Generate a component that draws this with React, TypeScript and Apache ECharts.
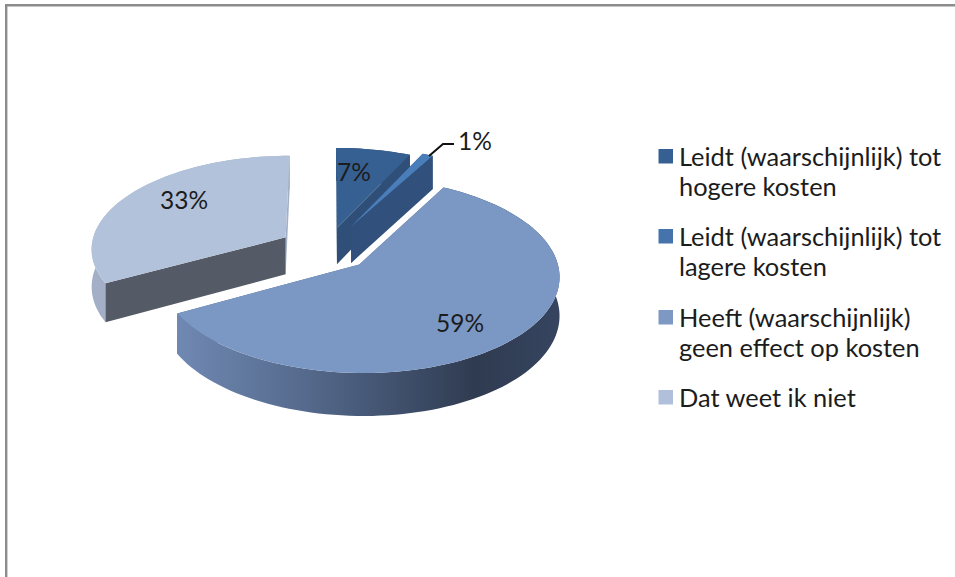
import React, { useEffect, useRef } from "react";
import * as echarts from "echarts";

const categories = [
  "Leidt (waarschijnlijk) tot\nhogere kosten",
  "Leidt (waarschijnlijk) tot\nlagere kosten",
  "Heeft (waarschijnlijk)\ngeen effect op kosten",
  "Dat weet ik niet",
];
const values = [7, 1, 59, 33];
const topColors = ["#376092", "#4a7ebb", "#7b98c4", "#b3c2db"];
const cutColors = ["#2f4f78", "#31517c", "#4d6285", "#545a66"];
const legendColors = ["#376092", "#4573ab", "#7c98c3", "#b0c0da"];
const labelOffsets = [
  [354, 171],
  [475, 140],
  [460, 322],
  [184, 199],
];
const legendTops = [141, 221, 302, 382];
const explodeBySlice = [0.24, 0.28, 0.23, 0.25];

const FONT = "Lato";
const CX = 327;
const CY = 249;
const RX = 195;
const RY = 93;
const K = 0.11;
const DEPTH = 37.5;

const total = values.reduce((a, b) => a + b, 0);
const rad = (d: number) => (d * Math.PI) / 180;

function project(X: number, Y: number, down: boolean): number[] {
  const d = 1 + K * Y;
  return [CX + (RX * X) / d, CY - (RY * Y) / d + (down ? DEPTH / d : 0)];
}

function renderSlice(params: any, api: any) {
  const i = params.dataIndex;
  const before = values.slice(0, i).reduce((a, b) => a + b, 0);
  const v = api.value(0);
  const a0 = (before / total) * 360;
  const a1 = ((before + v) / total) * 360;
  const mid = rad((a0 + a1) / 2);
  const ox = explodeBySlice[i] * Math.sin(mid);
  const oy = explodeBySlice[i] * Math.cos(mid);

  const rim = (deg: number, down: boolean) =>
    project(ox + Math.sin(rad(deg)), oy + Math.cos(rad(deg)), down);
  const apex = (down: boolean) => project(ox, oy, down);

  const steps = Math.max(4, Math.ceil((a1 - a0) / 2));
  const arcAngles: number[] = [];
  for (let s = 0; s <= steps; s++) arcAngles.push(a0 + ((a1 - a0) * s) / steps);

  const topPts = [apex(false), ...arcAngles.map((d) => rim(d, false))];
  const outerPts = [
    ...arcAngles.map((d) => rim(d, false)),
    ...arcAngles.slice().reverse().map((d) => rim(d, true)),
  ];
  const cut = (deg: number) => [apex(false), rim(deg, false), rim(deg, true), apex(true)];

  let outerFill: any = cutColors[i];
  if (i === 2) {
    outerFill = new echarts.graphic.LinearGradient(0, 0, 1, 0, [
      { offset: 0, color: "#7089b3" },
      { offset: 0.32, color: "#566b8e" },
      { offset: 0.58, color: "#40506c" },
      { offset: 0.78, color: "#2f3b50" },
      { offset: 1, color: "#364460" },
    ]);
  } else if (i === 3) {
    outerFill = "#a3afc6";
  }

  const poly = (points: number[][], fill: any) => ({
    type: "polygon",
    shape: { points },
    style: { fill, stroke: "none" },
  });

  const facesFront = (deg: number) => Math.cos(rad(deg)) < 0;
  const startFront = facesFront(a0 - 90);
  const endFront = facesFront(a1 + 90);
  const children: any[] = [];
  if (!startFront) children.push(poly(cut(a0), cutColors[i]));
  if (!endFront) children.push(poly(cut(a1), i === 3 ? "#a3afc6" : cutColors[i]));
  children.push(poly(outerPts, outerFill));
  if (startFront) children.push(poly(cut(a0), cutColors[i]));
  if (endFront) children.push(poly(cut(a1), cutColors[i]));
  children.push(poly(topPts, topColors[i]));
  return { type: "group", children };
}

function makeOption(): any {
  const graphics: any[] = [
    { type: "rect", shape: { x: 0, y: 0, width: 955, height: 577 }, style: { fill: "#ffffff" }, z: -1 },
    { type: "rect", shape: { x: 5, y: 4, width: 950, height: 2.4 }, style: { fill: "#8c8c8c" } },
    { type: "rect", shape: { x: 5, y: 4, width: 2.4, height: 573 }, style: { fill: "#8c8c8c" } },
    {
      type: "polyline",
      shape: { points: [[429, 156], [443, 144], [454, 144]] },
      style: { stroke: "#111111", lineWidth: 2, fill: "none" },
      z: 20,
    },
  ];
  values.forEach((v, i) => {
    graphics.push({
      type: "text",
      x: labelOffsets[i][0],
      y: labelOffsets[i][1],
      z: 20,
      style: {
        text: `${v}%`,
        font: `24.5px ${FONT}`,
        fill: "#1c1c1c",
        align: "center",
        verticalAlign: "middle",
      },
    });
    graphics.push({
      type: "rect",
      shape: { x: 658.5, y: legendTops[i] + 8, width: 14.5, height: 14.5 },
      style: { fill: legendColors[i] },
      z: 20,
    });
    graphics.push({
      type: "text",
      x: 679,
      y: legendTops[i],
      z: 20,
      style: {
        text: categories[i],
        font: `25.4px ${FONT}`,
        lineHeight: 30,
        fill: "#1c1c1c",
        align: "left",
        verticalAlign: "top",
      },
    });
  });
  return {
    animation: false,
    backgroundColor: "#ffffff",
    graphic: graphics,
    series: [
      {
        type: "custom",
        coordinateSystem: "none",
        renderItem: renderSlice,
        silent: true,
        data: values.map((v, i) => ({ name: categories[i], value: [v] })),
      },
    ],
  };
}

export default function App() {
  const ref = useRef<HTMLDivElement>(null);
  useEffect(() => {
    const chart = echarts.init(ref.current!, undefined, { renderer: "svg" });
    chart.setOption(makeOption());
    return () => chart.dispose();
  }, []);
  return (
    <div
      ref={ref}
      style={{ position: "absolute", left: 0, top: 0, width: 955, height: 577 }}
    />
  );
}
